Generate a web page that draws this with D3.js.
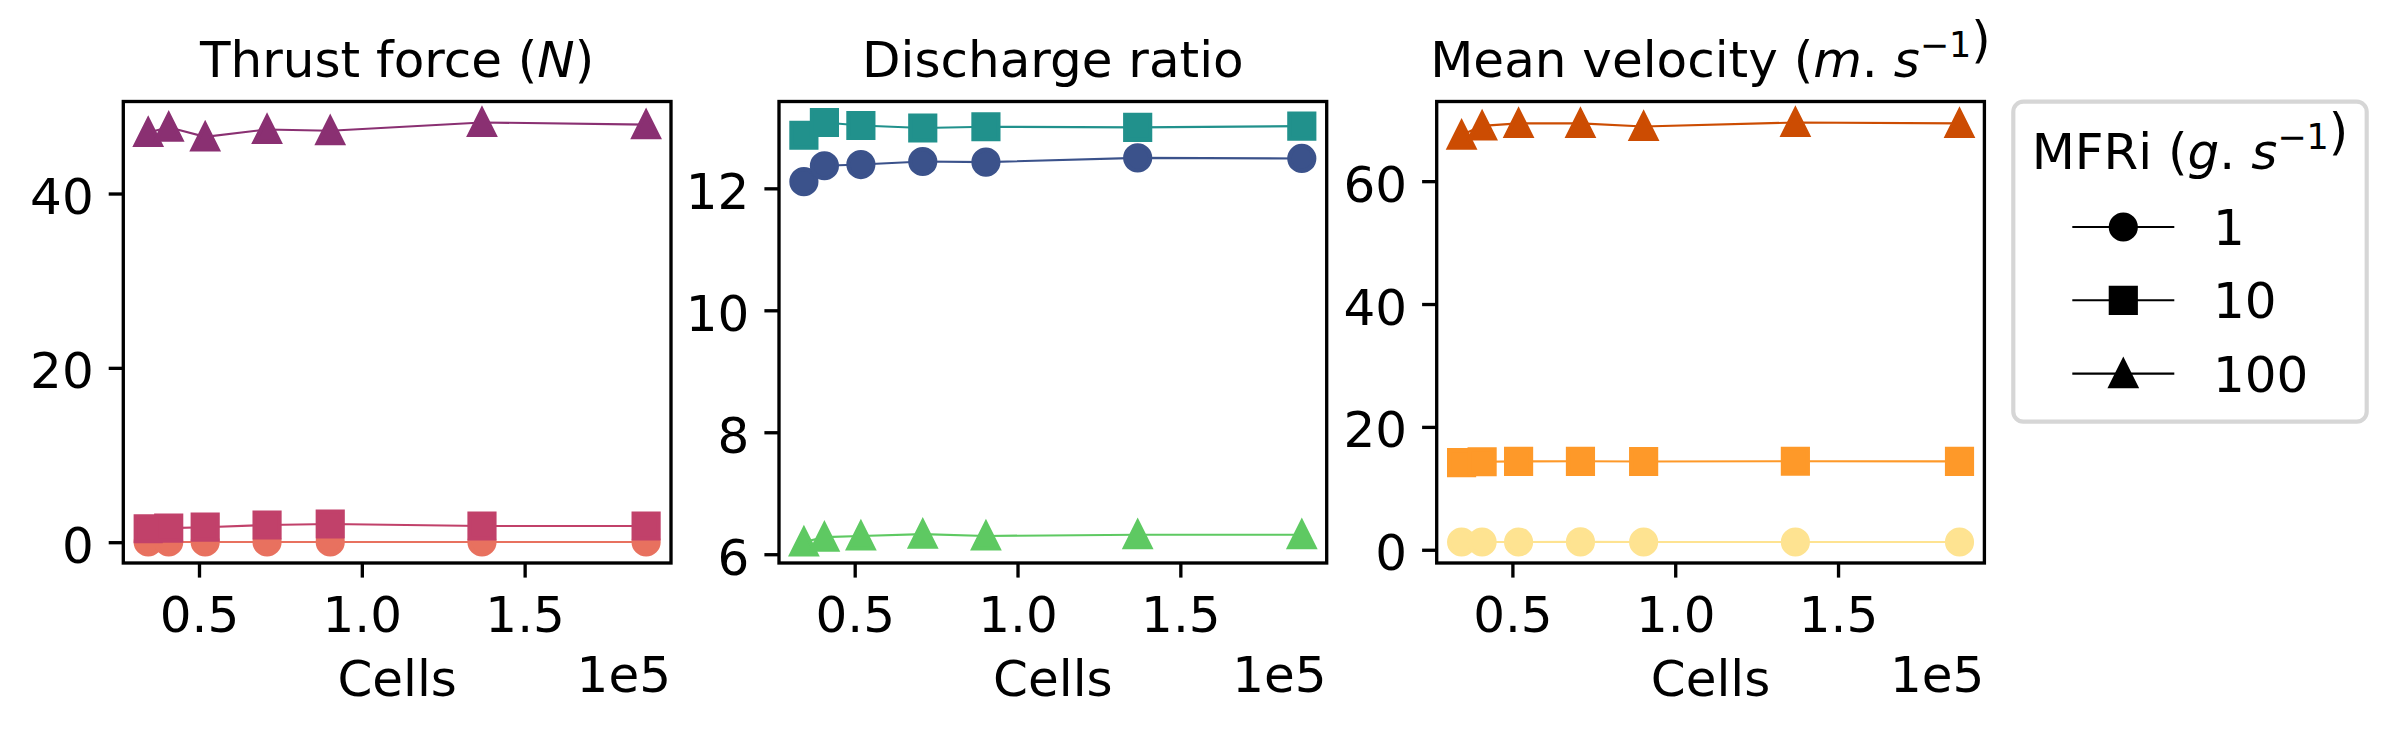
<!DOCTYPE html>
<html>
<head>
<meta charset="utf-8">
<script src="https://cdn.jsdelivr.net/npm/d3@7"></script>
<style>
  body { margin: 0; background: #fff; }
  text { font-family: "DejaVu Sans", sans-serif; fill: #000; }
</style>
</head>
<body>
<script>
// data
var cells = [34400, 40700, 51900, 70900, 90300, 136900, 187300];
var mfri = ["1", "10", "100"];

var thrust1 = [0.02, 0.02, 0.02, 0.03, 0.03, 0.02, 0.02];
var thrust10 = [1.54, 1.61, 1.72, 1.97, 2.09, 1.86, 1.86];
var thrust100 = [47.0, 47.6, 46.5, 47.35, 47.2, 48.15, 47.9];

var discharge1 = [12.11, 12.37, 12.39, 12.44, 12.43, 12.50, 12.49];
var discharge10 = [12.87, 13.08, 13.03, 12.99, 13.01, 13.00, 13.02];
var discharge100 = [6.20, 6.28, 6.30, 6.33, 6.30, 6.32, 6.32];

var velocity1 = [1.26, 1.27, 1.27, 1.28, 1.27, 1.27, 1.27];
var velocity10 = [14.19, 14.32, 14.38, 14.40, 14.37, 14.41, 14.39];
var velocity100 = [67.5, 69.0, 69.4, 69.4, 68.9, 69.55, 69.4];

var xTicks = [50000, 100000, 150000];
var thrustTicks = [0, 20, 40];
var dischargeTicks = [6, 8, 10, 12];
var velocityTicks = [0, 20, 40, 60];

var W = 2395, H = 735;
var fs = 50;
var plotTop = 101.5, ph = 461.5, pw = 547.7;
var lefts = [123.3, 779, 1436.7];

// matplotlib style triangle: width = height, centred on its box
var triangleUp = {
    draw: function (ctx, size) {
        var s = Math.sqrt(size) / 2;
        ctx.moveTo(0, -s); ctx.lineTo(s, s); ctx.lineTo(-s, s); ctx.closePath();
    }
};
var shapes = [d3.symbolCircle, d3.symbolSquare, triangleUp];
var ms = 25;
function symSize(i) { return i == 0 ? Math.PI * (ms / 2) * (ms / 2) : ms * ms; }

var panels = [
    { title: [["Thrust force (", false], ["N", true], [")", false]],
      series: [thrust1, thrust10, thrust100], ticks: thrustTicks,
      colors: ["#e8715f", "#c1416a", "#8a3072"] },
    { title: [["Discharge ratio", false]],
      series: [discharge1, discharge10, discharge100], ticks: dischargeTicks,
      colors: ["#3b528b", "#21918c", "#5ec962"] },
    { title: [["Mean velocity (", false], ["m", true], [". ", false], ["s", true], ["sup", false], [")", false]],
      series: [velocity1, velocity10, velocity100], ticks: velocityTicks,
      colors: ["#fee391", "#fe9929", "#cc4c02"] }
];

var svg = d3.select("body").append("svg")
    .attr("width", W).attr("height", H);

function pad(ext) {
    var r = ext[1] - ext[0];
    return [ext[0] - 0.05 * r, ext[1] + 0.05 * r];
}

function writeTitle(t, parts) {
    parts.forEach(function (p) {
        if (p[0] == "sup") {
            t.append("tspan").attr("dy", -20).attr("font-size", 35).text("\u22121");
            t.append("tspan").attr("dy", 20).text("");
        } else {
            var s = t.append("tspan").text(p[0]);
            if (p[1]) s.attr("font-style", "italic");
        }
    });
}

var xScaleBase = d3.scaleLinear().domain(pad(d3.extent(cells)));

panels.forEach(function (p, k) {
    var g = svg.append("g").attr("transform", "translate(" + lefts[k] + "," + plotTop + ")");
    var x = xScaleBase.copy().range([0, pw]);
    var all = d3.merge(p.series);
    var y = d3.scaleLinear().domain(pad(d3.extent(all))).range([ph, 0]);

    // series: line then markers, in plot order
    p.series.forEach(function (vals, i) {
        var pts = cells.map(function (c, j) { return [c, vals[j]]; });
        g.append("path")
            .attr("d", d3.line().x(function (d) { return x(d[0]); }).y(function (d) { return y(d[1]); })(pts))
            .attr("fill", "none")
            .attr("stroke", p.colors[i])
            .attr("stroke-width", 2.1);
        g.selectAll(".m" + i)
            .data(pts)
            .enter().append("path")
            .attr("class", "m" + i)
            .attr("transform", function (d) { return "translate(" + x(d[0]) + "," + y(d[1]) + ")"; })
            .attr("d", d3.symbol().type(shapes[i]).size(symSize(i)))
            .attr("fill", p.colors[i])
            .attr("stroke", p.colors[i])
            .attr("stroke-width", 4.17)
            .attr("stroke-linejoin", "miter");
    });

    var xa = g.append("g").attr("transform", "translate(0," + ph + ")")
        .call(d3.axisBottom(x).tickValues(xTicks).tickSize(14.6).tickSizeOuter(0).tickPadding(19)
            .tickFormat(function (d) { return (d / 1e5).toFixed(1); }));
    var ya = g.append("g")
        .call(d3.axisLeft(y).tickValues(p.ticks).tickSize(14.6).tickSizeOuter(0).tickPadding(15)
            .tickFormat(d3.format("d")));
    [xa, ya].forEach(function (a) {
        a.select(".domain").remove();
        a.selectAll("line").attr("stroke", "#000").attr("stroke-width", 3.33);
        a.selectAll("text").attr("font-size", fs).attr("font-family", "DejaVu Sans").attr("fill", "#000");
    });
    ya.selectAll("text").attr("dy", "0.4em");

    g.append("rect").attr("width", pw).attr("height", ph)
        .attr("fill", "none").attr("stroke", "#000").attr("stroke-width", 3.33);

    var t = g.append("text").attr("x", pw / 2).attr("y", 77 - plotTop)
        .attr("text-anchor", "middle").attr("font-size", fs);
    writeTitle(t, p.title);

    g.append("text").attr("x", pw / 2).attr("y", 696 - plotTop)
        .attr("text-anchor", "middle").attr("font-size", fs).text("Cells");
    g.append("text").attr("x", pw).attr("y", 692 - plotTop)
        .attr("text-anchor", "end").attr("font-size", fs).text("1e5");
});

// legend
var lg = svg.append("g");
lg.append("rect").attr("x", 2013.3).attr("y", 101.7).attr("width", 353.4).attr("height", 320)
    .attr("rx", 10).attr("fill", "#fff").attr("stroke", "#d6d6d6").attr("stroke-width", 4.17);
var lt = lg.append("text").attr("x", 2190).attr("y", 169.3).attr("text-anchor", "middle").attr("font-size", fs);
writeTitle(lt, [["MFRi (", false], ["g", true], [". ", false], ["s", true], ["sup", false], [")", false]]);

var rows = [227, 300.3, 373.6];
mfri.forEach(function (lab, i) {
    lg.append("line").attr("x1", 2072.3).attr("x2", 2174.3).attr("y1", rows[i]).attr("y2", rows[i])
        .attr("stroke", "#000").attr("stroke-width", 2.1);
    lg.append("path").attr("transform", "translate(2123.3," + rows[i] + ")")
        .attr("d", d3.symbol().type(shapes[i]).size(symSize(i)))
        .attr("fill", "#000").attr("stroke", "#000").attr("stroke-width", 4.17);
    lg.append("text").attr("x", 2213).attr("y", rows[i] + 18).attr("font-size", fs).text(lab);
});
</script>
</body>
</html>
